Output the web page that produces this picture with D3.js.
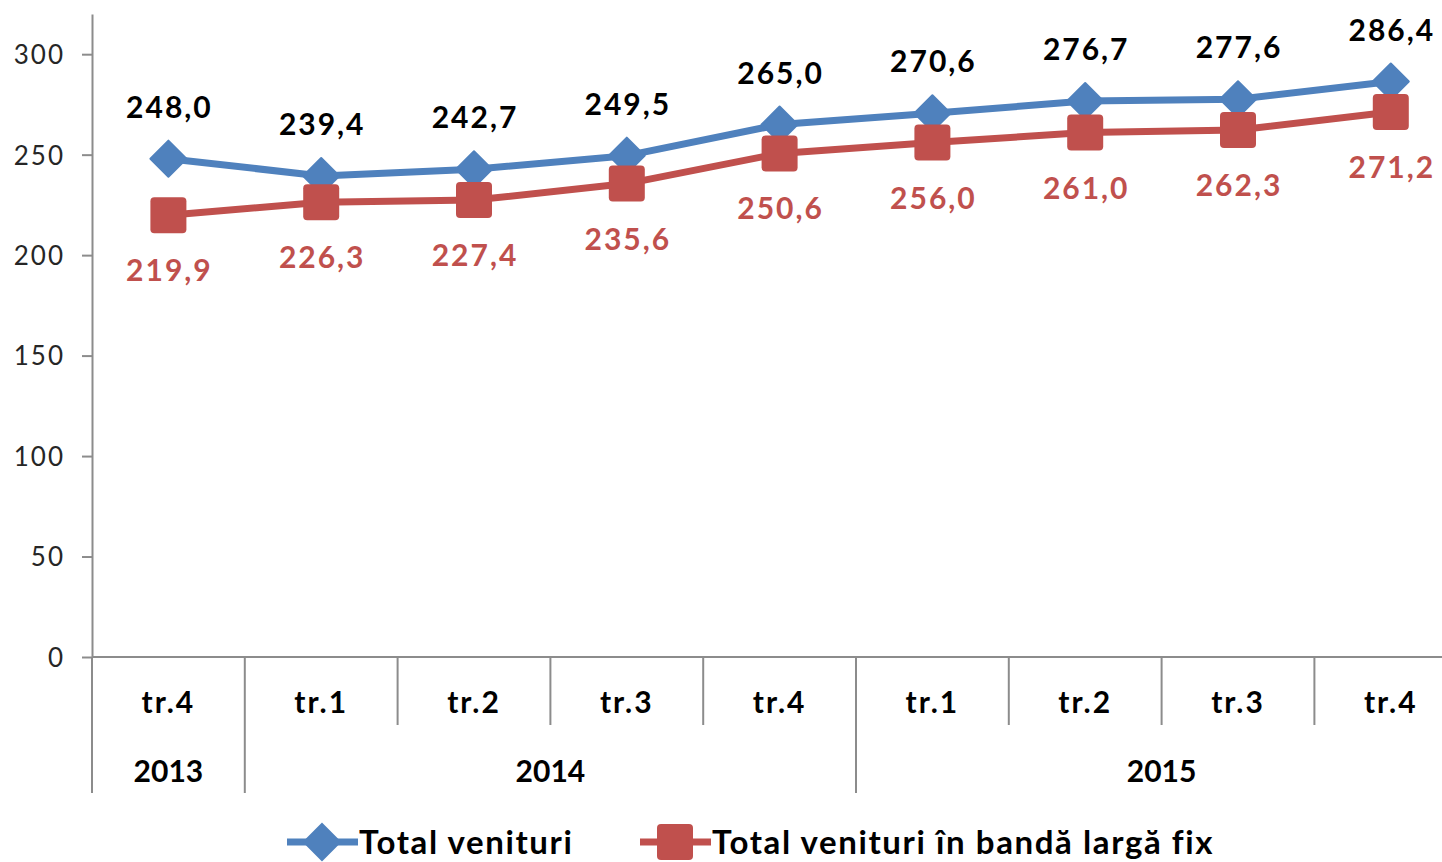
<!DOCTYPE html>
<html>
<head>
<meta charset="utf-8">
<script src="https://cdn.jsdelivr.net/npm/d3@7"></script>
<style>
  body { margin: 0; background: #fff; }
  svg { display: block; font-family: Lato, "Open Sans", sans-serif; }
</style>
</head>
<body>
<div class="viz"></div>
<script>
// data
const quarters = ["tr.4", "tr.1", "tr.2", "tr.3", "tr.4", "tr.1", "tr.2", "tr.3", "tr.4"];
const years = ["2013", "2014", "2014", "2014", "2014", "2015", "2015", "2015", "2015"];
const totalVenituri = [248.0, 239.4, 242.7, 249.5, 265.0, 270.6, 276.7, 277.6, 286.4];
const bandaLarga = [219.9, 226.3, 227.4, 235.6, 250.6, 256.0, 261.0, 262.3, 271.2];
const yTicks = [0, 50, 100, 150, 200, 250, 300];
const seriesNames = ["Total venituri", "Total venituri în bandă largă fix"];

const width = 1442, height = 862;
const margin = ({top: 14, left: 92, bottom: 205});
const blue = "#4f81bd", red = "#c0504d", axisCol = "#8c8c8c";

const keys = quarters.map((q, i) => years[i] + "-" + q);

const svg = d3.select('.viz').append('svg')
    .attr('width', width)
    .attr('height', height);

// plot is cropped on the right in the original, the last band runs past the edge
const x = d3.scaleBand()
    .domain(keys)
    .range([margin.left, margin.left + 9 * 152.8])
    .padding(0);

const y = d3.scaleLinear()
    .domain([0, 320])
    .range([height - margin.bottom, margin.top]);

const cx = i => x(keys[i]) + x.bandwidth() / 2;

// y axis
svg.append("g")
    .attr("transform", `translate(${margin.left},0)`)
    .call(d3.axisLeft(y).tickValues(yTicks).tickSize(10).tickSizeOuter(0).tickPadding(17))
    .call(g => g.select(".domain").attr("stroke", axisCol).attr("stroke-width", 2))
    .call(g => g.selectAll(".tick line").attr("stroke", axisCol).attr("stroke-width", 2))
    .call(g => g.selectAll("text").attr("font-size", 26).attr("fill", "#262626")
        .attr("letter-spacing", 2).attr("font-family", "Lato, sans-serif").attr("dy", "0.36em"));

// x axis, two levels
const y0 = y(0);
svg.append("line")
    .attr("x1", margin.left).attr("x2", width)
    .attr("y1", y0).attr("y2", y0)
    .attr("stroke", axisCol).attr("stroke-width", 2);

svg.append("g")
    .attr("transform", `translate(0,${y0})`)
    .call(d3.axisBottom(x).tickSize(0).tickPadding(35).tickFormat((d, i) => quarters[i]))
    .call(g => g.select(".domain").remove())
    .call(g => g.selectAll("text").attr("font-size", 30).attr("font-weight", "bold")
        .attr("letter-spacing", 2).attr("fill", "#000").attr("font-family", "Lato, sans-serif"));

// separators
const sep = svg.append("g").attr("stroke", axisCol).attr("stroke-width", 2);
keys.forEach((k, i) => {
  const newYear = i === 0 || years[i] !== years[i - 1];
  sep.append("line")
      .attr("x1", x(k)).attr("x2", x(k))
      .attr("y1", y0).attr("y2", newYear ? y0 + 136 : y0 + 68);
});

// year labels
const yearGroups = d3.groups(keys.map((k, i) => ({k, year: years[i]})), d => d.year);
svg.append("g").selectAll("text").data(yearGroups).enter().append("text")
    .attr("x", d => (x(d[1][0].k) + x(d[1][d[1].length - 1].k) + x.bandwidth()) / 2)
    .attr("y", y0 + 125)
    .attr("text-anchor", "middle")
    .attr("font-size", 30).attr("font-weight", "bold")
    .text(d => d[0]);

// lines
const line = d3.line().x((d, i) => cx(i)).y(d => y(d));

svg.append("path").datum(bandaLarga)
    .attr("d", line).attr("fill", "none")
    .attr("stroke", red).attr("stroke-width", 7).attr("stroke-linejoin", "round");
svg.append("path").datum(totalVenituri)
    .attr("d", line).attr("fill", "none")
    .attr("stroke", blue).attr("stroke-width", 7).attr("stroke-linejoin", "round");

// markers
const diamond = "M0,-18L18,0L0,18L-18,0Z";
svg.append("g").selectAll("path").data(totalVenituri).enter().append("path")
    .attr("d", diamond)
    .attr("transform", (d, i) => `translate(${cx(i)},${y(d)})`)
    .attr("fill", blue).attr("stroke", blue).attr("stroke-width", 2).attr("stroke-linejoin", "round");

svg.append("g").selectAll("rect").data(bandaLarga).enter().append("rect")
    .attr("x", (d, i) => cx(i) - 18)
    .attr("y", d => y(d) - 18)
    .attr("width", 36).attr("height", 36)
    .attr("rx", 4)
    .attr("fill", red);

// data labels
const fmt = v => v.toFixed(1).replace(".", ",");
svg.append("g").selectAll("text").data(totalVenituri).enter().append("text")
    .attr("x", (d, i) => cx(i) + 1)
    .attr("y", d => y(d) - 41)
    .attr("text-anchor", "middle")
    .attr("font-size", 30).attr("font-weight", "bold").attr("letter-spacing", 2).attr("fill", "#000")
    .text(fmt);

svg.append("g").selectAll("text").data(bandaLarga).enter().append("text")
    .attr("x", (d, i) => cx(i) + 1)
    .attr("y", d => y(d) + 66)
    .attr("text-anchor", "middle")
    .attr("font-size", 30).attr("font-weight", "bold").attr("letter-spacing", 2).attr("fill", red)
    .text(fmt);

// legend
const legend = svg.append("g").attr("transform", `translate(0,842)`);
const legendItems = [
  {name: seriesNames[0], color: blue, x: 287, shape: "diamond"},
  {name: seriesNames[1], color: red, x: 640, shape: "square"}
];
legendItems.forEach(it => {
  legend.append("line")
      .attr("x1", it.x).attr("x2", it.x + 71)
      .attr("y1", 0).attr("y2", 0)
      .attr("stroke", it.color).attr("stroke-width", 7);
  if (it.shape === "diamond") {
    legend.append("path").attr("d", diamond)
        .attr("transform", `translate(${it.x + 35},0)`)
        .attr("fill", it.color).attr("stroke", it.color).attr("stroke-width", 2);
  } else {
    legend.append("rect")
        .attr("x", it.x + 35 - 18).attr("y", -18)
        .attr("width", 36).attr("height", 36).attr("rx", 4)
        .attr("fill", it.color);
  }
  legend.append("text")
      .attr("x", it.x + 72).attr("y", 0).attr("dy", "0.36em")
      .attr("font-size", 33).attr("font-weight", "bold").attr("letter-spacing", 1.6)
      .text(it.name);
});
</script>
</body>
</html>
